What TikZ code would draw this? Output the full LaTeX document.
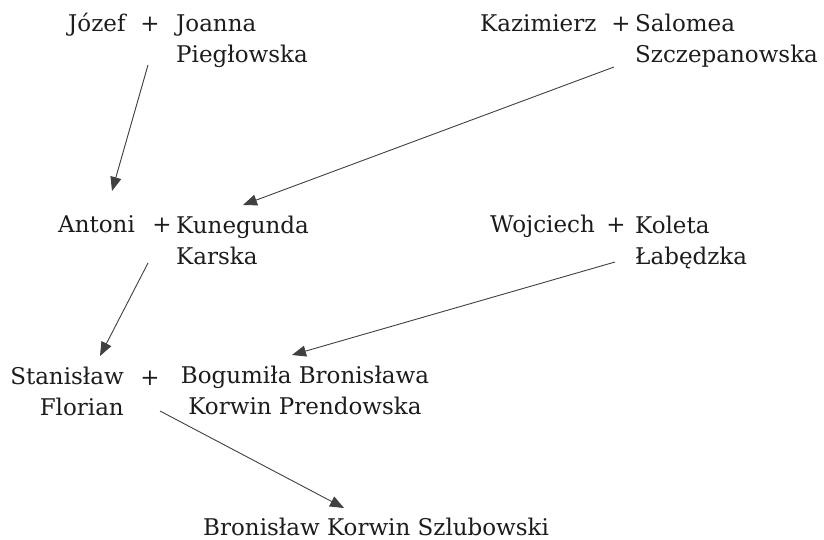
\documentclass[tikz,border=0pt]{standalone}
\usepackage{fontspec}
\newfontfamily\namefont{DejaVu Serif}
\usetikzlibrary{arrows.meta,calc}
\definecolor{ink}{HTML}{1C1C1C}
\definecolor{wire}{HTML}{404040}
\tikzset{
    person/.style={anchor=base west, inner sep=0pt, align=left, text=ink, font=\namefont\fontsize{23}{31}\selectfont},
    plus/.style={anchor=base, inner sep=0pt, text=ink, font=\namefont\fontsize{23}{31}\selectfont},
    arrow/.style={-{Triangle[length=14pt,width=11pt]}, line width=0.9pt, color=wire}
}

\begin{document}
\begin{tikzpicture}[x=1pt, y=-1pt]

\useasboundingbox (0,0) rectangle (824,540);

% first generation (two-line nodes sit on their last baseline)
\node[person] (jozef) at (68,32) {Józef};
\node[plus] (plusA) at (150,32) {+};
\node[person] (joanna) at (176,63) {Joanna\\Piegłowska};

\node[person] (kazimierz) at (480,32) {Kazimierz};
\node[plus] (plusB) at (621,32) {+};
\node[person] (salomea) at (635,63) {Salomea\\Szczepanowska};

% second generation
\node[person] (antoni) at (58,233) {Antoni};
\node[plus] (plusC) at (162,233) {+};
\node[person] (kunegunda) at (176,264) {Kunegunda\\Karska};

\node[person] (wojciech) at (490,233) {Wojciech};
\node[plus] (plusD) at (616,233) {+};
\node[person] (koleta) at (635,264) {Koleta\\Łabędzka};

% third generation
\node[person, anchor=base east, align=right] (stanislaw) at (124,415) {Stanisław\\Florian};
\node[plus] (plusE) at (150,385) {+};
\node[person, anchor=base, align=center] (bogumila) at (305,414) {Bogumiła Bronisława\\Korwin Prendowska};

% son
\node[person] (bronislaw) at (203,535) {Bronisław Korwin Szlubowski};

\draw[arrow] ($(plusA.base)+(-2,33)$) -- ($(antoni.base west)+(54,-42)$);
\draw[arrow] ($(salomea.base west)+(-21,4)$) -- ($(kunegunda.base west)+(67,-59)$);
\draw[arrow] ($(plusC.base)+(-14,30)$) -- ($(stanislaw.base east)+(-24,-59)$);
\draw[arrow] ($(koleta.base west)+(-20,-2)$) -- ($(bogumila.base)+(-13,-59)$);
\draw[arrow] ($(plusE.base)+(10,26)$) -- ($(bronislaw.base west)+(141,-27)$);

\end{tikzpicture}
\end{document}
